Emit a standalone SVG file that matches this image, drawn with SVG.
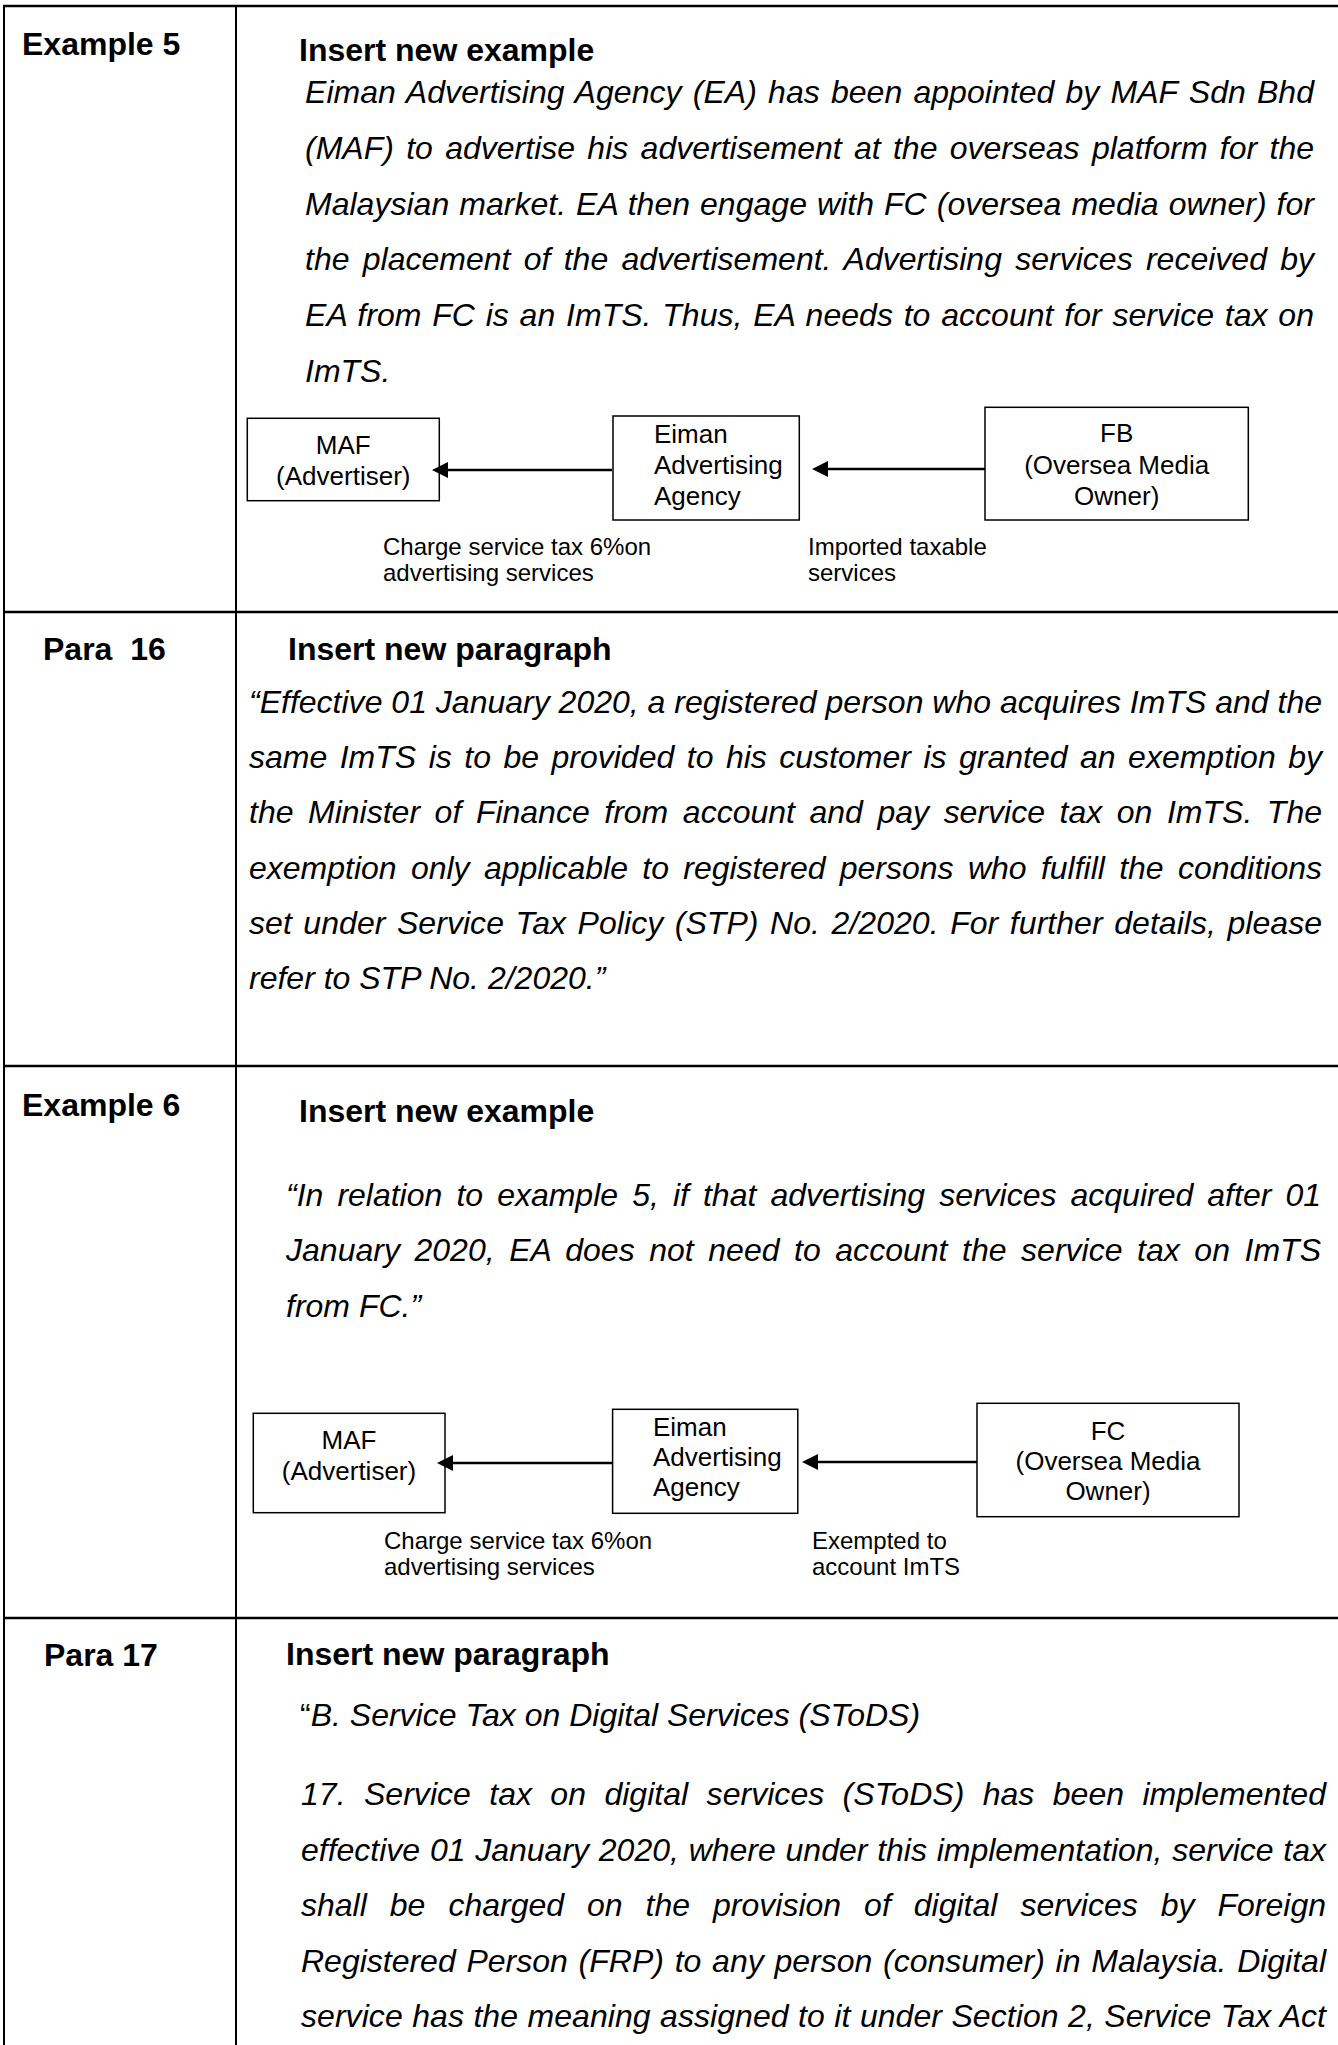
<svg xmlns="http://www.w3.org/2000/svg" width="1338" height="2045" viewBox="0 0 1338 2045">
<defs>
<style>
text{font-family:"Liberation Sans",Arial,sans-serif;fill:#000}
.hd{font-size:32px;font-weight:bold}
.bd{font-size:32px;font-style:italic}
.up{font-style:normal}
.bt{font-size:26px;text-anchor:middle}
.bl{font-size:26px}
.lb{font-size:24px}
.gh{stroke:#000;stroke-width:2.5;fill:none}
.gv{stroke:#000;stroke-width:2;fill:none}
.box{fill:#fff;stroke:#000;stroke-width:1.5}
.conn{stroke:#000;stroke-width:2.6;fill:none;marker-end:url(#arr)}
</style>
<marker id="arr" viewBox="0 0 16 16" refX="8" refY="8" markerWidth="16" markerHeight="16" markerUnits="userSpaceOnUse" orient="auto">
<path d="M0,0 L16,8 L0,16 z" fill="#000"/>
</marker>
</defs>
<rect width="1338" height="2045" fill="#fff"/>

<g id="table">
<line class="gh" x1="3" y1="6" x2="1338" y2="6"/>
<line class="gh" x1="3" y1="612" x2="1338" y2="612"/>
<line class="gh" x1="3" y1="1066" x2="1338" y2="1066"/>
<line class="gh" x1="3" y1="1618" x2="1338" y2="1618"/>
<line class="gv" x1="4" y1="5" x2="4" y2="2045"/>
<line class="gv" x1="236" y1="5" x2="236" y2="2045"/>
</g>

<g id="row-example5">
<text class="hd" x="22" y="55">Example 5</text>
<text class="hd" x="299" y="61">Insert new example</text>
<text class="bd" x="305" y="103" word-spacing="2.2" textLength="1009" lengthAdjust="spacing">Eiman Advertising Agency (EA) has been appointed by MAF Sdn Bhd</text>
<text class="bd" x="305" y="158.8" word-spacing="3.4" textLength="1009" lengthAdjust="spacing">(MAF) to advertise his advertisement at the overseas platform for the</text>
<text class="bd" x="305" y="214.6" word-spacing="1.1" textLength="1009" lengthAdjust="spacing">Malaysian market. EA then engage with FC (oversea media owner) for</text>
<text class="bd" x="305" y="270.4" word-spacing="4.3" textLength="1009" lengthAdjust="spacing">the placement of the advertisement. Advertising services received by</text>
<text class="bd" x="305" y="326.2" word-spacing="1.8" textLength="1009" lengthAdjust="spacing">EA from FC is an ImTS. Thus, EA needs to account for service tax on</text>
<text class="bd" x="305" y="382">ImTS.</text>
</g>

<g id="d1-maf">
<rect class="box" x="247.3" y="418.3" width="192" height="82.4"/>
<text class="bt" x="343.3" y="454">MAF</text>
<text class="bt" x="343.3" y="485">(Advertiser)</text>
</g>
<g id="d1-eiman">
<rect class="box" x="613" y="416" width="186.3" height="104"/>
<text class="bl" x="654" y="443">Eiman</text>
<text class="bl" x="654" y="474">Advertising</text>
<text class="bl" x="654" y="505">Agency</text>
</g>
<g id="d1-fb">
<rect class="box" x="985" y="407.3" width="263.3" height="112.7"/>
<text class="bt" x="1116.7" y="442">FB</text>
<text class="bt" x="1116.7" y="474">(Oversea Media</text>
<text class="bt" x="1116.7" y="505">Owner)</text>
</g>
<g id="d1-labels">
<text class="lb" x="383" y="555">Charge service tax 6%on</text>
<text class="lb" x="383" y="581">advertising services</text>
<text class="lb" x="808" y="555">Imported taxable</text>
<text class="lb" x="808" y="581">services</text>
</g>

<g id="row-para16">
<text class="hd" x="43" y="660" xml:space="preserve">Para  16</text>
<text class="hd" x="288" y="660">Insert new paragraph</text>
<text class="bd" x="249" y="712.6" textLength="1073" lengthAdjust="spacing">“Effective 01 January 2020, a registered person who acquires ImTS and the</text>
<text class="bd" x="249" y="767.9" word-spacing="3.6" textLength="1073" lengthAdjust="spacing">same ImTS is to be provided to his customer is granted an exemption by</text>
<text class="bd" x="249" y="823.2" word-spacing="5.7" textLength="1073" lengthAdjust="spacing">the Minister of Finance from account and pay service tax on ImTS. The</text>
<text class="bd" x="249" y="878.5" word-spacing="5.4" textLength="1073" lengthAdjust="spacing">exemption only applicable to registered persons who fulfill the conditions</text>
<text class="bd" x="249" y="933.8" word-spacing="2.6" textLength="1073" lengthAdjust="spacing">set under Service Tax Policy (STP) No. 2/2020. For further details, please</text>
<text class="bd" x="249" y="989">refer to STP No. 2/2020.”</text>
</g>

<g id="row-example6">
<text class="hd" x="22" y="1116">Example 6</text>
<text class="hd" x="299" y="1122">Insert new example</text>
<text class="bd" x="286" y="1205.5" word-spacing="5.2" textLength="1035" lengthAdjust="spacing">“In relation to example 5, if that advertising services acquired after 01</text>
<text class="bd" x="286" y="1261" word-spacing="5.6" textLength="1035" lengthAdjust="spacing">January 2020, EA does not need to account the service tax on ImTS</text>
<text class="bd" x="286" y="1316.5">from FC.”</text>
</g>

<g id="d2-maf">
<rect class="box" x="253.3" y="1413.3" width="191.7" height="99.4"/>
<text class="bt" x="349" y="1449">MAF</text>
<text class="bt" x="349" y="1480">(Advertiser)</text>
</g>
<g id="d2-eiman">
<rect class="box" x="612.6" y="1409.3" width="185.2" height="104"/>
<text class="bl" x="653" y="1436">Eiman</text>
<text class="bl" x="653" y="1466">Advertising</text>
<text class="bl" x="653" y="1496">Agency</text>
</g>
<g id="d2-fc">
<rect class="box" x="977" y="1403.3" width="262" height="113.4"/>
<text class="bt" x="1108" y="1440">FC</text>
<text class="bt" x="1108" y="1470">(Oversea Media</text>
<text class="bt" x="1108" y="1500">Owner)</text>
</g>
<g id="d2-labels">
<text class="lb" x="384" y="1549">Charge service tax 6%on</text>
<text class="lb" x="384" y="1575">advertising services</text>
<text class="lb" x="812" y="1549">Exempted to</text>
<text class="lb" x="812" y="1575">account ImTS</text>
</g>

<g id="connectors">
<line class="conn" x1="612" y1="470" x2="440" y2="470"/>
<line class="conn" x1="985" y1="469" x2="820" y2="469"/>
<line class="conn" x1="612" y1="1463" x2="445" y2="1463"/>
<line class="conn" x1="977" y1="1462" x2="810" y2="1462"/>
</g>

<g id="row-para17">
<text class="hd" x="44" y="1666">Para 17</text>
<text class="hd" x="286" y="1665">Insert new paragraph</text>
<text class="bd" x="300" y="1726"><tspan class="up">“</tspan>B. Service Tax on Digital Services (SToDS)</text>
<text class="bd" x="301" y="1805" word-spacing="9.4" textLength="1025" lengthAdjust="spacing">17. Service tax on digital services (SToDS) has been implemented</text>
<text class="bd" x="301" y="1860.5" word-spacing="0.9" textLength="1025" lengthAdjust="spacing">effective 01 January 2020, where under this implementation, service tax</text>
<text class="bd" x="301" y="1916" word-spacing="14.1" textLength="1025" lengthAdjust="spacing">shall be charged on the provision of digital services by Foreign</text>
<text class="bd" x="301" y="1971.5" word-spacing="1.9" textLength="1025" lengthAdjust="spacing">Registered Person (FRP) to any person (consumer) in Malaysia. Digital</text>
<text class="bd" x="301" y="2027" word-spacing="0.5" textLength="1025" lengthAdjust="spacing">service has the meaning assigned to it under Section 2, Service Tax Act</text>
</g>
</svg>
